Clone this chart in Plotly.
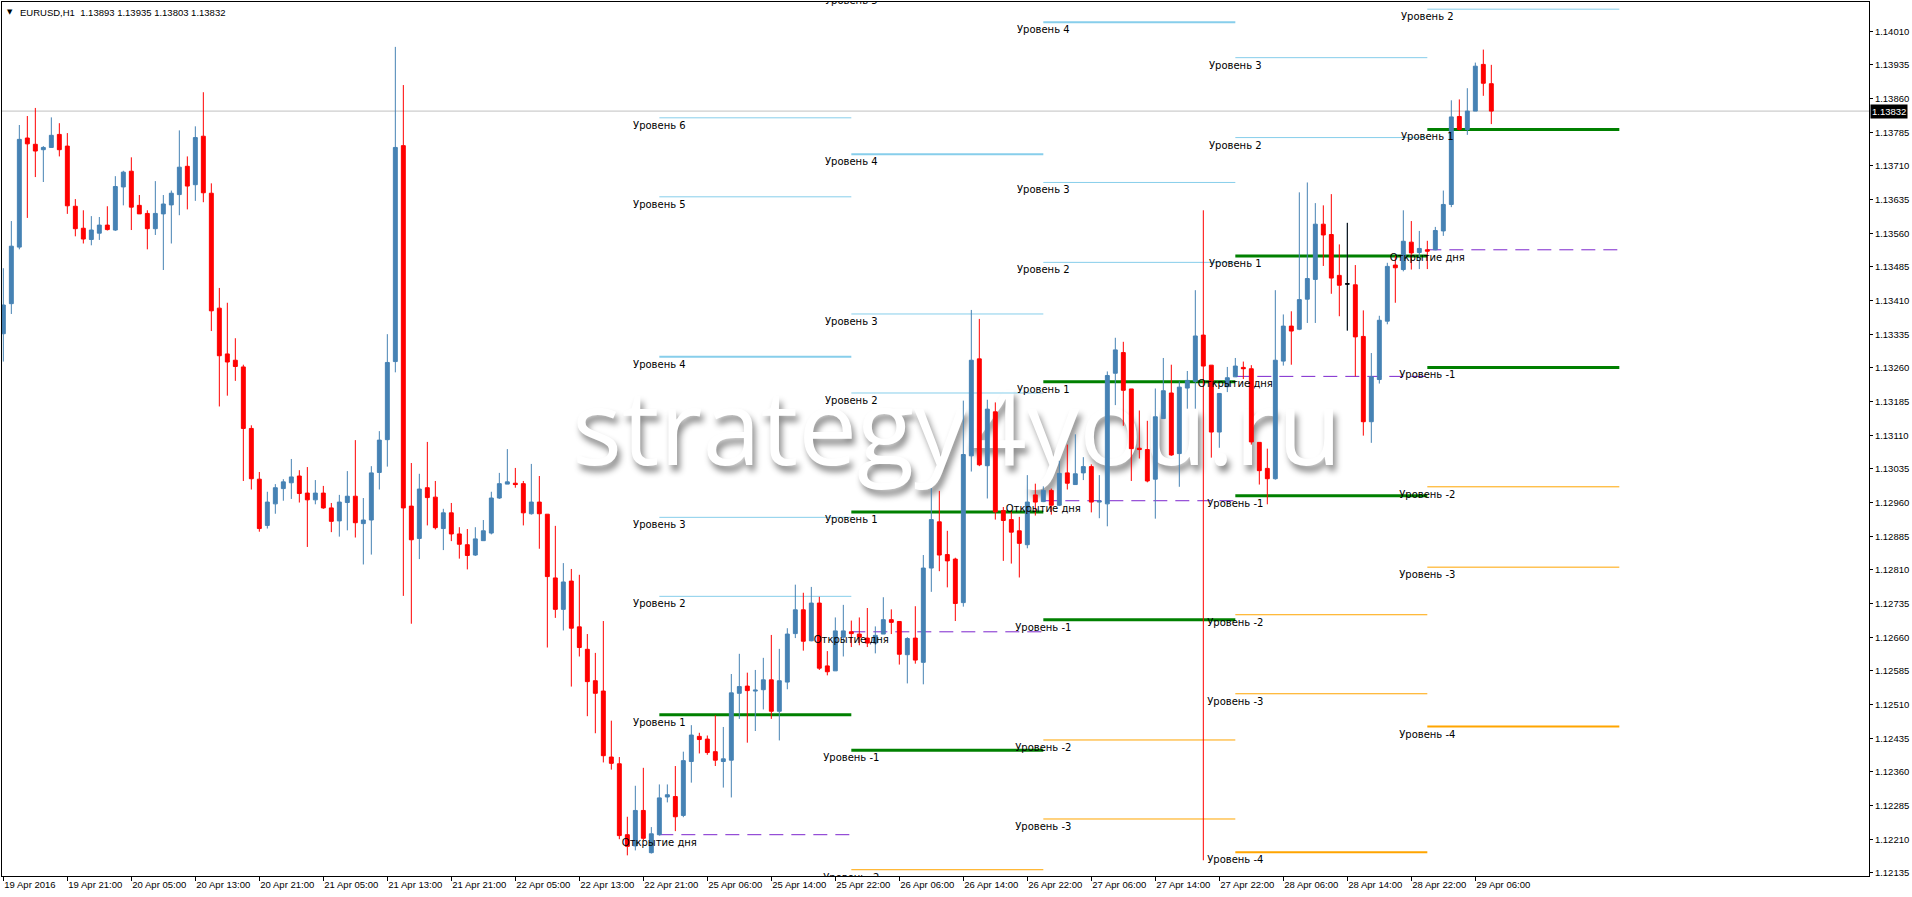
import plotly.graph_objects as go

# ---------------- data (EURUSD H1, bar index 0 = 19 Apr 2016 13:00) ----------------
OPEN = [1.13336, 1.13403, 1.13529, 1.13772, 1.13758, 1.13746, 1.13751, 1.13780, 1.13754, 1.13620,
        1.13571, 1.13546, 1.13560, 1.13578, 1.13567, 1.13663, 1.13698, 1.13622, 1.13604, 1.13570,
        1.13603, 1.13623, 1.13646, 1.13709, 1.13668, 1.13776, 1.13649, 1.13393, 1.13291, 1.13277,
        1.13262, 1.13125, 1.13012, 1.12909, 1.12957, 1.12991, 1.13004, 1.13019, 1.12981, 1.12966,
        1.12981, 1.12948, 1.12919, 1.12960, 1.12974, 1.12913, 1.12921, 1.13027, 1.13100, 1.13274,
        1.13755, 1.12952, 1.12880, 1.12993, 1.12972, 1.12902, 1.12937, 1.12890, 1.12866, 1.12843,
        1.12875, 1.12892, 1.12970, 1.13001, 1.13003, 1.13002, 1.12935, 1.12961, 1.12934, 1.12792,
        1.12722, 1.12785, 1.12683, 1.12633, 1.12563, 1.12540, 1.12393, 1.12378, 1.12220, 1.12195,
        1.12274, 1.12180, 1.12220, 1.12304, 1.12305, 1.12263, 1.12383, 1.12439, 1.12433, 1.12405,
        1.12383, 1.12386, 1.12535, 1.12551, 1.12540, 1.12543, 1.12565, 1.12495, 1.12560, 1.12668,
        1.12721, 1.12652, 1.12736, 1.12596, 1.12585, 1.12660, 1.12672, 1.12667, 1.12658, 1.12647,
        1.12667, 1.12699, 1.12695, 1.12621, 1.12658, 1.12604, 1.12814, 1.12917, 1.12844, 1.12834,
        1.12737, 1.13064, 1.13280, 1.13042, 1.13162, 1.12942, 1.12922, 1.12897, 1.12866, 1.12977,
        1.12962, 1.12987, 1.12954, 1.13026, 1.13000, 1.13026, 1.13040, 1.12961, 1.12957, 1.13248,
        1.13294, 1.13213, 1.13081, 1.13078, 1.13012, 1.13147, 1.13204, 1.13069, 1.13215, 1.13230,
        1.13333, 1.13266, 1.13117, 1.13218, 1.13240, 1.13261, 1.13258, 1.13094, 1.13036, 1.13013,
        1.13275, 1.13353, 1.13346, 1.13413, 1.13457, 1.13580, 1.13557, 1.13466, 1.13447, 1.13445,
        1.13330, 1.13140, 1.13234, 1.13364, 1.13489, 1.13479, 1.13540, 1.13517, 1.13523, 1.13523,
        1.13565, 1.13624, 1.13820, 1.13791, 1.13832, 1.13936, 1.13893]
HIGH = [1.13482, 1.13587, 1.13801, 1.13821, 1.13839, 1.13754, 1.13818, 1.13805, 1.13783, 1.13636,
        1.13611, 1.13598, 1.13596, 1.13620, 1.13687, 1.13699, 1.13729, 1.13645, 1.13611, 1.13676,
        1.13645, 1.13655, 1.13789, 1.13731, 1.13798, 1.13874, 1.13671, 1.13438, 1.13405, 1.13326,
        1.13267, 1.13132, 1.13028, 1.12984, 1.13001, 1.13012, 1.13057, 1.13032, 1.13039, 1.13010,
        1.12997, 1.12959, 1.12977, 1.13030, 1.13099, 1.12970, 1.13041, 1.13119, 1.13335, 1.13975,
        1.13890, 1.13048, 1.13024, 1.13095, 1.13008, 1.12946, 1.12959, 1.12905, 1.12901, 1.12905,
        1.12921, 1.12984, 1.13026, 1.13079, 1.13037, 1.13008, 1.13046, 1.13019, 1.12934, 1.12908,
        1.12825, 1.12812, 1.12799, 1.12667, 1.12625, 1.12696, 1.12474, 1.12393, 1.12260, 1.12329,
        1.12369, 1.12237, 1.12332, 1.12332, 1.12373, 1.12405, 1.12464, 1.12447, 1.12441, 1.12486,
        1.12460, 1.12578, 1.12623, 1.12581, 1.12587, 1.12614, 1.12665, 1.12634, 1.12680, 1.12777,
        1.12759, 1.12772, 1.12750, 1.12629, 1.12704, 1.12732, 1.12697, 1.12704, 1.12725, 1.12684,
        1.12749, 1.12722, 1.12695, 1.12660, 1.12729, 1.12843, 1.12992, 1.12986, 1.12897, 1.12837,
        1.13187, 1.13389, 1.13369, 1.13189, 1.13183, 1.12950, 1.12941, 1.12928, 1.13021, 1.13002,
        1.12996, 1.12991, 1.13053, 1.13089, 1.13112, 1.13061, 1.13045, 1.13021, 1.13252, 1.13327,
        1.13318, 1.13213, 1.13165, 1.13142, 1.13214, 1.13282, 1.13267, 1.13230, 1.13253, 1.13433,
        1.13611, 1.13266, 1.13203, 1.13262, 1.13282, 1.13274, 1.13266, 1.13094, 1.13080, 1.13433,
        1.13379, 1.13386, 1.13651, 1.13673, 1.13627, 1.13622, 1.13647, 1.13535, 1.13583, 1.13489,
        1.13388, 1.13293, 1.13376, 1.13494, 1.13509, 1.13611, 1.13587, 1.13565, 1.13543, 1.13574,
        1.13655, 1.13856, 1.13858, 1.13883, 1.13940, 1.13969, 1.13935]
LOW = [1.13274, 1.13380, 1.13524, 1.13594, 1.13685, 1.13674, 1.13751, 1.13731, 1.13603, 1.13553,
       1.13537, 1.13533, 1.13545, 1.13566, 1.13565, 1.13622, 1.13567, 1.13603, 1.13524, 1.13556,
       1.13478, 1.13537, 1.13600, 1.13613, 1.13632, 1.13629, 1.13342, 1.13174, 1.13198, 1.13231,
       1.13008, 1.12989, 1.12895, 1.12902, 1.12935, 1.12964, 1.12968, 1.12960, 1.12861, 1.12956,
       1.12946, 1.12894, 1.12884, 1.12898, 1.12882, 1.12822, 1.12844, 1.12989, 1.13040, 1.13250,
       1.12752, 1.12690, 1.12834, 1.12909, 1.12900, 1.12854, 1.12874, 1.12835, 1.12811, 1.12841,
       1.12875, 1.12889, 1.12968, 1.13001, 1.12993, 1.12909, 1.12933, 1.12857, 1.12637, 1.12703,
       1.12675, 1.12550, 1.12617, 1.12484, 1.12446, 1.12381, 1.12365, 1.12210, 1.12174, 1.12185,
       1.12208, 1.12178, 1.12218, 1.12292, 1.12228, 1.12259, 1.12336, 1.12401, 1.12398, 1.12373,
       1.12325, 1.12303, 1.12478, 1.12425, 1.12451, 1.12499, 1.12478, 1.12430, 1.12544, 1.12658,
       1.12630, 1.12651, 1.12587, 1.12575, 1.12585, 1.12617, 1.12638, 1.12642, 1.12638, 1.12624,
       1.12667, 1.12667, 1.12599, 1.12557, 1.12601, 1.12555, 1.12761, 1.12807, 1.12771, 1.12696,
       1.12728, 1.13029, 1.13041, 1.12969, 1.12922, 1.12830, 1.12824, 1.12793, 1.12858, 1.12931,
       1.12961, 1.12933, 1.12952, 1.12989, 1.13000, 1.13010, 1.12938, 1.12925, 1.12907, 1.13177,
       1.13131, 1.13008, 1.13058, 1.13005, 1.12924, 1.13147, 1.13064, 1.12995, 1.13169, 1.13169,
       1.12163, 1.13060, 1.13082, 1.13206, 1.13240, 1.13235, 1.13089, 1.13000, 1.12956, 1.13011,
       1.13265, 1.13267, 1.13344, 1.13360, 1.13360, 1.13487, 1.13425, 1.13375, 1.13343, 1.13241,
       1.13109, 1.13093, 1.13225, 1.13357, 1.13405, 1.13475, 1.13479, 1.13480, 1.13480, 1.13522,
       1.13554, 1.13618, 1.13789, 1.13779, 1.13832, 1.13866, 1.13803]
CLOSE = [1.13400, 1.13531, 1.13769, 1.13759, 1.13743, 1.13751, 1.13778, 1.13746, 1.13621, 1.13570,
         1.13547, 1.13567, 1.13578, 1.13568, 1.13664, 1.13696, 1.13618, 1.13603, 1.13570, 1.13604,
         1.13625, 1.13649, 1.13707, 1.13665, 1.13773, 1.13650, 1.13387, 1.13287, 1.13273, 1.13263,
         1.13125, 1.13013, 1.12902, 1.12961, 1.12993, 1.13006, 1.13017, 1.12980, 1.12966, 1.12981,
         1.12948, 1.12918, 1.12961, 1.12974, 1.12915, 1.12921, 1.13026, 1.13099, 1.13272, 1.13751,
         1.12948, 1.12877, 1.12990, 1.12971, 1.12904, 1.12937, 1.12890, 1.12867, 1.12842, 1.12879,
         1.12897, 1.12970, 1.13002, 1.13006, 1.13000, 1.12937, 1.12961, 1.12935, 1.12795, 1.12722,
         1.12783, 1.12680, 1.12637, 1.12561, 1.12535, 1.12396, 1.12379, 1.12218, 1.12194, 1.12274,
         1.12212, 1.12222, 1.12302, 1.12309, 1.12260, 1.12385, 1.12442, 1.12432, 1.12403, 1.12386,
         1.12389, 1.12536, 1.12550, 1.12541, 1.12542, 1.12565, 1.12495, 1.12563, 1.12667, 1.12721,
         1.12651, 1.12736, 1.12591, 1.12583, 1.12674, 1.12674, 1.12668, 1.12660, 1.12647, 1.12664,
         1.12699, 1.12693, 1.12622, 1.12657, 1.12609, 1.12814, 1.12922, 1.12843, 1.12830, 1.12735,
         1.13067, 1.13277, 1.13044, 1.13168, 1.12939, 1.12920, 1.12894, 1.12869, 1.12961, 1.12961,
         1.12987, 1.12954, 1.13025, 1.13003, 1.13024, 1.13040, 1.12961, 1.12963, 1.13243, 1.13300,
         1.13210, 1.13080, 1.13078, 1.13008, 1.13151, 1.13209, 1.13066, 1.13217, 1.13232, 1.13331,
         1.13264, 1.13117, 1.13203, 1.13238, 1.13264, 1.13258, 1.13095, 1.13031, 1.13013, 1.13277,
         1.13353, 1.13342, 1.13412, 1.13459, 1.13580, 1.13556, 1.13460, 1.13444, 1.13447, 1.13329,
         1.13140, 1.13240, 1.13366, 1.13486, 1.13483, 1.13542, 1.13516, 1.13526, 1.13520, 1.13566,
         1.13624, 1.13819, 1.13791, 1.13832, 1.13932, 1.13894, 1.13832]
BARS = list(range(len(OPEN)))
BLACK_DOJI_BARS = [168]

SYMBOL = "EURUSD,H1"

X_TICK_BARS = [0, 8, 16, 24, 32, 40, 48, 56, 64, 72, 80, 88, 96, 104, 112, 120,
               128, 136, 144, 152, 160, 168, 176, 184]
X_TICK_TEXT = ["19 Apr 2016", "19 Apr 21:00", "20 Apr 05:00", "20 Apr 13:00", "20 Apr 21:00",
               "21 Apr 05:00", "21 Apr 13:00", "21 Apr 21:00", "22 Apr 05:00", "22 Apr 13:00",
               "22 Apr 21:00", "25 Apr 06:00", "25 Apr 14:00", "25 Apr 22:00", "26 Apr 06:00",
               "26 Apr 14:00", "26 Apr 22:00", "27 Apr 06:00", "27 Apr 14:00", "27 Apr 22:00",
               "28 Apr 06:00", "28 Apr 14:00", "28 Apr 22:00", "29 Apr 06:00"]
Y_TICKS = [1.12135, 1.12210, 1.12285, 1.12360, 1.12435, 1.12510, 1.12585, 1.12660, 1.12735,
           1.12810, 1.12885, 1.12960, 1.13035, 1.13110, 1.13185, 1.13260, 1.13335, 1.13410,
           1.13485, 1.13560, 1.13635, 1.13710, 1.13785, 1.13860, 1.13935, 1.14010]

# daily levels (each day spans 24 bars)
DAY_START = [82, 106, 130, 154, 178]
DAY_BARS = 24
DAY_OPEN = [1.12220, 1.12672, 1.12964, 1.13241, 1.13523]
DAY_LEVEL_IDS = [
    [1, 2, 3, 4, 5, 6],
    [1, 2, 3, 4, 5, -1, -2],
    [1, 2, 3, 4, -1, -2, -3],
    [1, 2, 3, -1, -2, -3, -4],
    [1, 2, -1, -2, -3, -4],
]
DAY_LEVEL_PRICES = [
    [1.12487, 1.12751, 1.12927, 1.13285, 1.13641, 1.13817],
    [1.12939, 1.13204, 1.13380, 1.13736, 1.14094, 1.12408, 1.12142],
    [1.13229, 1.13495, 1.13673, 1.14030, 1.12699, 1.12431, 1.12255],
    [1.13509, 1.13773, 1.13951, 1.12975, 1.12710, 1.12534, 1.12181],
    [1.13791, 1.14059, 1.13261, 1.12995, 1.12816, 1.12461],
]

# ---------------- layout constants ----------------
X_RANGE = [-0.166, 233.21]
Y_RANGE = [1.12128, 1.14075]
WATERMARK = "strategy4you.ru"
WM_X, WM_Y = 119.2, 1.13101

BULL = "#4682B4"
BEAR = "#FF0000"
GREEN = "#008000"
SKY = "#87CEEB"
ORANGE = "#FFA500"
PURPLE = "#7D26CD"
AX_FONT = dict(family="Liberation Sans, Arial, sans-serif", size=9.5, color="black")
LBL_FONT = dict(family="DejaVu Sans, Verdana, sans-serif", size=10, color="black")


def level_style(n):
    if abs(n) == 1:
        return (GREEN, 3)
    if n == 4:
        return (SKY, 2)
    if n == -4:
        return (ORANGE, 2)
    return (SKY, 1) if n > 0 else (ORANGE, 1)


fig = go.Figure()

# watermark (below everything)
fig.add_trace(go.Scatter(
    x=[WM_X], y=[WM_Y], mode="text", text=[WATERMARK], textposition="middle center",
    textfont=dict(family="Open Sans, Noto Sans, sans-serif", size=105, color="white",
                  shadow="3px 6px 6px rgba(0,0,0,0.45)"),
    hoverinfo="skip", cliponaxis=False, showlegend=False))

# level lines grouped by style, labels collected for a clipped text trace
groups = {}
lab_x, lab_y, lab_t = [], [], []
for d, start in enumerate(DAY_START):
    end = start + DAY_BARS
    for n, p in zip(DAY_LEVEL_IDS[d], DAY_LEVEL_PRICES[d]):
        key = level_style(n)
        gx, gy = groups.setdefault(key, ([], []))
        gx += [start, end, None]
        gy += [p, p, None]
        lab_x.append(start)
        lab_y.append(p)
        lab_t.append(f"Уровень {n}")
for (color, width), (gx, gy) in groups.items():
    fig.add_trace(go.Scatter(x=gx, y=gy, mode="lines", line=dict(color=color, width=width),
                             hoverinfo="skip", showlegend=False))

# day-open dashed lines
ox, oy = [], []
for start, p in zip(DAY_START, DAY_OPEN):
    ox += [start, start + DAY_BARS, None]
    oy += [p, p, None]
    lab_x.append(start)
    lab_y.append(p)
    lab_t.append("Открытие дня")
fig.add_trace(go.Scatter(x=ox, y=oy, mode="lines",
                         line=dict(color=PURPLE, width=1, dash="14px,8px"),
                         hoverinfo="skip", showlegend=False))

# candles on an overlaid axis pair so they are drawn above the level lines
fig.add_trace(go.Candlestick(
    x=BARS, open=OPEN, high=HIGH, low=LOW, close=CLOSE, xaxis="x2", yaxis="y2",
    increasing=dict(line=dict(color=BULL, width=1), fillcolor=BULL),
    decreasing=dict(line=dict(color=BEAR, width=1), fillcolor=BEAR),
    whiskerwidth=0, showlegend=False))
fig.add_trace(go.Candlestick(
    x=BLACK_DOJI_BARS, open=[OPEN[i] for i in BLACK_DOJI_BARS],
    high=[HIGH[i] for i in BLACK_DOJI_BARS], low=[LOW[i] for i in BLACK_DOJI_BARS],
    close=[CLOSE[i] for i in BLACK_DOJI_BARS], xaxis="x2", yaxis="y2",
    increasing=dict(line=dict(color="black", width=1), fillcolor="black"),
    decreasing=dict(line=dict(color="black", width=1), fillcolor="black"),
    whiskerwidth=0, showlegend=False))

# level labels (above candles, clipped to the plot area like the terminal does)
fig.add_trace(go.Scatter(
    x=lab_x, y=lab_y, text=lab_t, mode="markers+text", textposition="bottom center",
    marker=dict(size=4, color="rgba(0,0,0,0)"),
    textfont=LBL_FONT, xaxis="x2", yaxis="y2", cliponaxis=True,
    hoverinfo="skip", showlegend=False))

# current price line
fig.add_hline(y=CLOSE[-1], line=dict(color="#C0C0C0", width=1), layer="below")

annotations = []
# current price box on the axis
annotations.append(dict(x=1, xref="paper", y=CLOSE[-1], yref="y", text=f"{CLOSE[-1]:.5f}",
                        showarrow=False, xanchor="left", yanchor="middle", xshift=1,
                        bgcolor="black", borderpad=1,
                        font=dict(family=AX_FONT["family"], size=9.5, color="white")))

# header
header = (f"{SYMBOL}\u00a0\u00a0{OPEN[-1]:.5f} {HIGH[-1]:.5f} {LOW[-1]:.5f} {CLOSE[-1]:.5f}")
annotations.append(dict(x=0, y=1, xref="paper", yref="paper", text=header, showarrow=False,
                        xanchor="left", yanchor="top", xshift=16, yshift=-3, font=AX_FONT))
annotations.append(dict(x=0, y=1, xref="paper", yref="paper", text="▼", showarrow=False,
                        xanchor="left", yanchor="top", xshift=3, yshift=-4,
                        font=dict(family="DejaVu Sans", size=7, color="black")))

fig.update_layout(
    width=1912, height=897,
    margin=dict(l=2, r=43, t=2, b=21, autoexpand=False),
    paper_bgcolor="white", plot_bgcolor="white", showlegend=False,
    boxgap=0.3, boxgroupgap=0.3,
    xaxis=dict(range=X_RANGE, showgrid=False, zeroline=False, showline=True,
               linecolor="black", linewidth=1, mirror=True,
               tickmode="array", tickvals=X_TICK_BARS, ticktext=X_TICK_TEXT,
               ticks="outside", ticklen=4, tickcolor="black", tickangle=0,
               ticklabelposition="outside right", tickfont=AX_FONT),
    yaxis=dict(range=Y_RANGE, side="right", showgrid=False, zeroline=False, showline=True,
               linecolor="black", linewidth=1, mirror=True,
               tickmode="array", tickvals=Y_TICKS, ticktext=[f"{v:.5f}" for v in Y_TICKS],
               ticks="outside", ticklen=3, tickcolor="black", tickfont=AX_FONT),
    xaxis2=dict(overlaying="x", matches="x", visible=False, range=X_RANGE,
                rangeslider=dict(visible=False)),
    yaxis2=dict(overlaying="y", matches="y", visible=False, range=Y_RANGE),
    annotations=annotations,
)

fig.write_html("out.html", config={"displayModeBar": False},
               post_script="document.body.style.margin='0px';"
                           "document.body.style.overflow='hidden';")
